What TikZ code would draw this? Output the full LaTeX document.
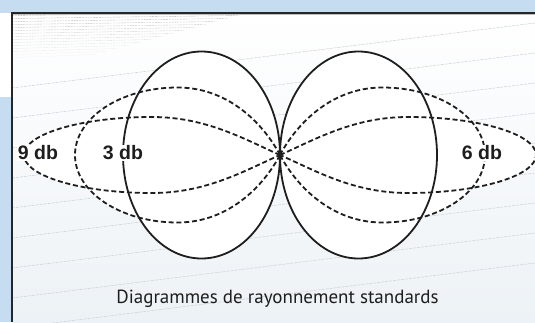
\documentclass[tikz,border=0pt]{standalone}
\usepackage{fontspec}
\newfontfamily\labelfont{Liberation Sans}
\newfontfamily\captionfont{PT Sans}
\definecolor{bandblue}{HTML}{C6DCF1}
\definecolor{panelblue}{HTML}{EDF2F6}
\definecolor{rulegray}{HTML}{CCD1D6}
\definecolor{inkgray}{HTML}{1E1E1E}
\newcommand\outerlobe{(0,0) .. controls (36,-16) and (74,-38) .. (128,-38) .. controls (198.7,-38) and (256,-21) .. (256,0) .. controls (256,21) and (198.7,38) .. (128,38) .. controls (74,38) and (36,16) .. (0,0) -- cycle}
\newcommand\midlobe{(0,0) .. controls (14,-26.5) and (48,-67.5) .. (102.5,-67.5) .. controls (159,-67.5) and (205,-37.3) .. (205,0) .. controls (205,37.3) and (159,67.5) .. (102.5,67.5) .. controls (48,67.5) and (14,26.5) .. (0,0) -- cycle}

\begin{document}
\begin{tikzpicture}[x=1pt,y=-1pt,
  lobe/.style={draw=inkgray,line width=1.8pt},
  dashlobe/.style={draw=inkgray,line width=1.8pt,dash pattern=on 5pt off 2.8pt},
  dblabel/.style={fill=white,inner sep=1.2pt,text=inkgray,font=\labelfont\bfseries\fontsize{19.5}{20}\selectfont}]
\path[use as bounding box] (0,0) rectangle (535,322);
\fill[white] (0,0) rectangle (535,322);
\fill[bandblue] (0,0) rectangle (535,12.5);
\fill[bandblue] (0,97) rectangle (11.5,322);
\shade[top color=white,bottom color=panelblue] (12,13) rectangle (535,322);
\begin{scope}
\clip (12,13) rectangle (535,322);
\foreach \k in {0,...,14}
  \draw[black!30,line width=.35pt,dash pattern=on 2pt off .8pt,draw opacity={1-\k/16}] (12,{15.5+3*\k}) -- ({250-11*\k},{12.5+3*\k});
\foreach \y in {88,118,...,328}
  \draw[rulegray,line width=.5pt,dash pattern=on 3pt off 1pt] (12,\y) -- (535,\y-65);
\end{scope}
\draw[black!85,line width=1.3pt] (12,322) -- (12,13) -- (535,13);
\draw[black!25,line width=.6pt] (12.7,14.3) -- (535,14.3);

\coordinate (c) at (280,155);
\begin{scope}[shift={(c)}]
\foreach \s in {1,-1}{
  \begin{scope}[xscale=\s]
    \fill[white] (78.5,0) ellipse[x radius=78.5,y radius=103.5];
    \fill[white] \midlobe;
    \fill[white] \outerlobe;
  \end{scope}
}
\foreach \s in {1,-1}{
  \begin{scope}[xscale=\s]
    \draw[lobe] (78.5,0) ellipse[x radius=78.5,y radius=103.5];
    \draw[dashlobe] \midlobe;
    \draw[dashlobe] \outerlobe;
  \end{scope}
}
\end{scope}

\node[dblabel] (nine) at (38,153) {9 db};
\node[dblabel] (three) at (123,153) {3 db};
\node[dblabel] (six) at (482,153) {6 db};
\node[anchor=base,text=inkgray,font=\captionfont\fontsize{19}{20}\selectfont] (caption) at (277.5,303) {Diagrammes de rayonnement standards};
\end{tikzpicture}
\end{document}
